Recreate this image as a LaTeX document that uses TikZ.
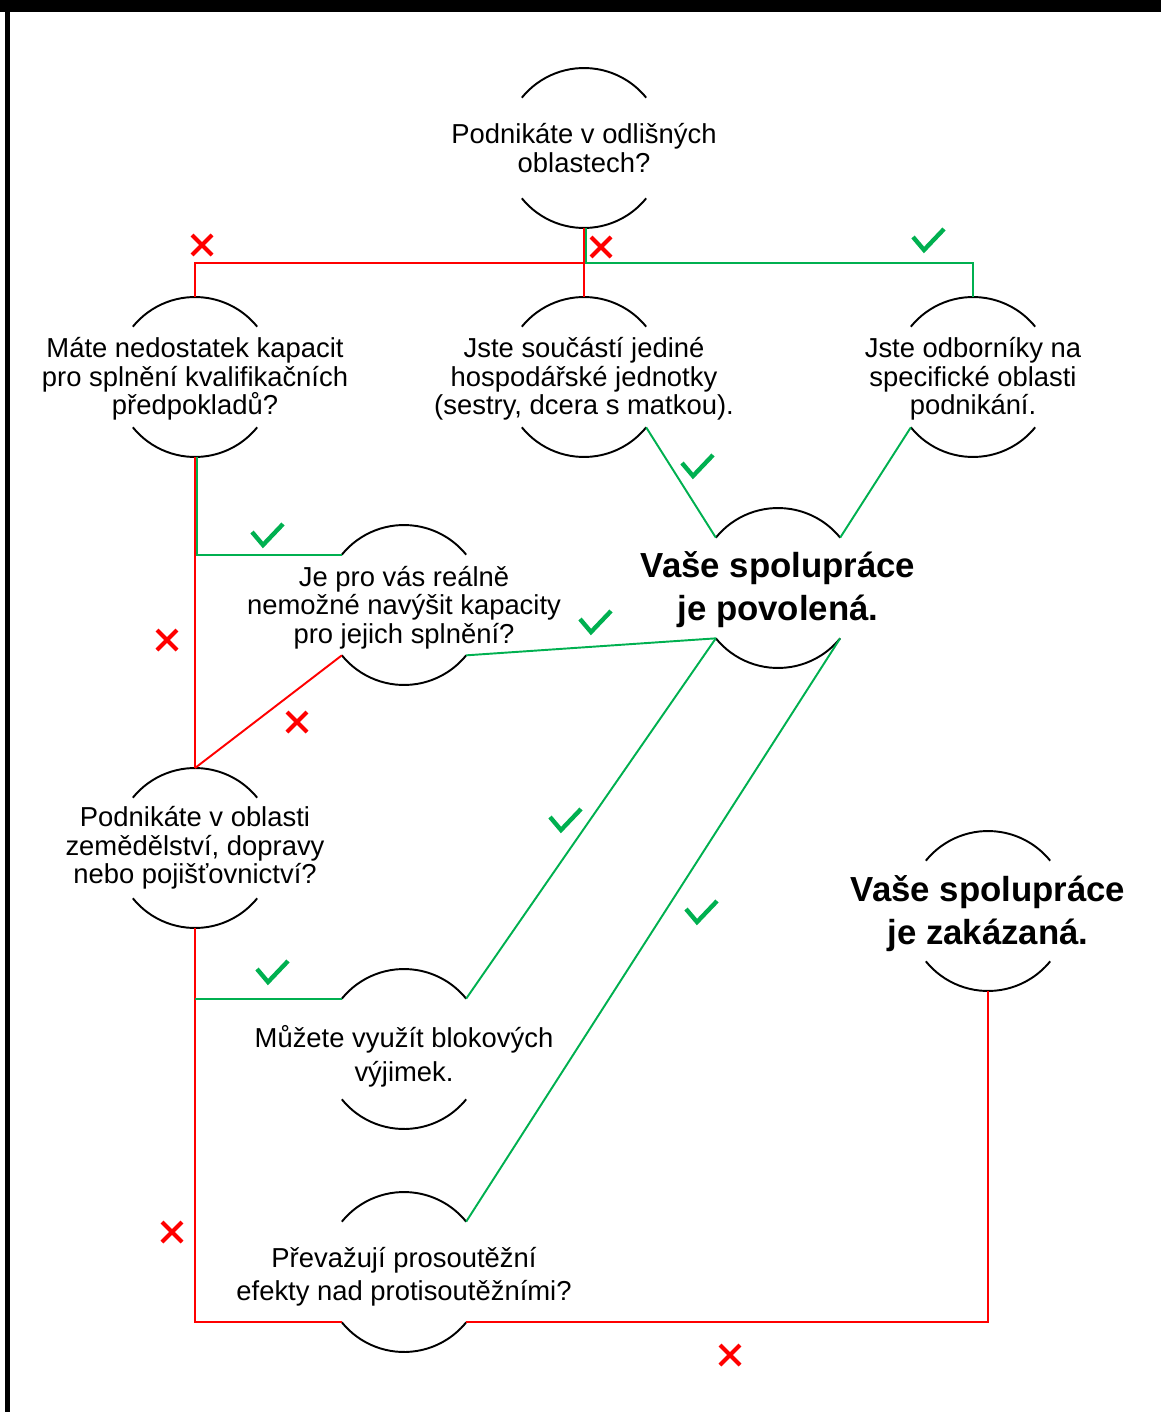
\documentclass[tikz,border=0pt]{standalone}
\usepackage{fontspec}
\setmainfont{Liberation Sans}
\definecolor{nocol}{RGB}{255,0,0}
\definecolor{yescol}{RGB}{0,176,80}

\tikzset{
  qnode/.style={circle, minimum size=3.2cm, inner sep=0pt, outer sep=0pt},
  qtext/.style={align=center, inner sep=0pt, font=\fontsize{15.6}{16.2}\selectfont},
  qtextwide/.style={qtext, font=\fontsize{15.6}{19.3}\selectfont},
  atext/.style={align=center, inner sep=0pt, font=\fontsize{19.8}{24.4}\selectfont\bfseries},
  ringline/.style={draw=black, line width=1.1pt},
  nopath/.style={draw=nocol, line width=1.1pt},
  yespath/.style={draw=yescol, line width=1.1pt},
  nomark/.pic={\draw[nocol, line width=2.3pt] (-10,-10) -- (10,10) (-10,10) -- (10,-10);},
  yesmark/.pic={\draw[yescol, line width=2.5pt] (-16,3) -- (-5,-10) -- (15,11);}
}

% top and bottom arc of a question circle
\newcommand{\halfring}[1]{%
  \draw[ringline] (#1.141) arc[start angle=141, end angle=39, radius=1.6cm];
  \draw[ringline] (#1.219) arc[start angle=219, end angle=321, radius=1.6cm];}

\begin{document}
\begin{tikzpicture}[x=0.02cm, y=0.02cm]
  \useasboundingbox (0,0) rectangle (1161,-1412);
  \fill[black] (0,0) rectangle (1161,-12);
  \fill[black] (5,0) rectangle (10,-1412);

  % circles
  \node[qnode] (q0) at (584,-148) {};
  \node[qnode] (q1) at (195,-377) {};
  \node[qnode] (q2) at (584,-377) {};
  \node[qnode] (q3) at (973,-377) {};
  \node[qnode] (q4) at (404,-605) {};
  \node[qnode] (yes) at (778,-588) {};
  \node[qnode] (q5) at (195,-848) {};
  \node[qnode] (no) at (988,-911) {};
  \node[qnode] (q6) at (404,-1049) {};
  \node[qnode] (q7) at (404,-1272) {};
  \foreach \n in {q0,q1,q2,q3,q4,yes,q5,no,q6,q7} {\halfring{\n}}

  % texts
  \node[qtext] (q0t) at (q0) {Podnikáte v odlišných\\oblastech?};
  \node[qtext] (q1t) at ([yshift=-1.1pt]q1) {Máte nedostatek kapacit\\pro splnění kvalifikačních\\předpokladů?};
  \node[qtext] (q2t) at ([yshift=-1.1pt]q2) {Jste součástí jediné\\hospodářské jednotky\\(sestry, dcera s matkou).};
  \node[qtext] (q3t) at ([yshift=-1.1pt]q3) {Jste odborníky na\\specifické oblasti\\podnikání.};
  \node[qtext] (q4t) at ([yshift=-1.5pt]q4) {Je pro vás reálně\\nemožné navýšit kapacity\\pro jejich splnění?};
  \node[atext] (yest) at ([yshift=-1pt]yes) {Vaše spolupráce\\je povolená.};
  \node[qtext] (q5t) at (q5) {Podnikáte v oblasti\\zemědělství, dopravy\\nebo pojišťovnictví?};
  \node[atext] (not) at ([yshift=-1.7pt]no) {Vaše spolupráce\\je zakázaná.};
  \node[qtextwide] (q6t) at ([yshift=-4pt]q6) {Můžete využít blokových\\výjimek.};
  \node[qtextwide] (q7t) at ([yshift=-2.7pt]q7) {Převažují prosoutěžní\\efekty nad protisoutěžními?};

  % connectors
  \coordinate (j0) at (584,-263);
  \draw[nopath] (q0.south) -- (q2.north);
  \draw[nopath] (j0) -| (q1.north);
  \draw[yespath] ([xshift=1pt]q0.south) -- ([xshift=1pt]j0) -| (q3.north);
  \draw[yespath] (q2.321) -- (yes.141);
  \draw[yespath] (q3.219) -- (yes.39);
  \draw[nopath] (q1.south) -- (q5.north);
  \draw[yespath] ([xshift=1pt]q1.south) |- (q4.141);
  \draw[nopath] (q4.219) -- (q5.north);
  \draw[yespath] (q4.321) -- (yes.219);
  \draw[nopath] (q5.south) |- (q7.219);
  \draw[yespath] (q6.141 -| q5.south) -- (q6.141);
  \draw[yespath] (q6.39) -- (yes.219);
  \draw[yespath] (q7.39) -- (yes.321);
  \draw[nopath] (q7.321) -| (no.south);

  % answer marks
  \foreach \p in {(202,-245),(601,-247),(167,-640),(297,-722),(172,-1232),(730,-1355)}
    \pic at \p {nomark};
  \foreach \p in {(929,-240),(268,-535),(698,-466),(596,-622),(566,-820),(702,-912),(273,-972)}
    \pic at \p {yesmark};
\end{tikzpicture}
\end{document}
